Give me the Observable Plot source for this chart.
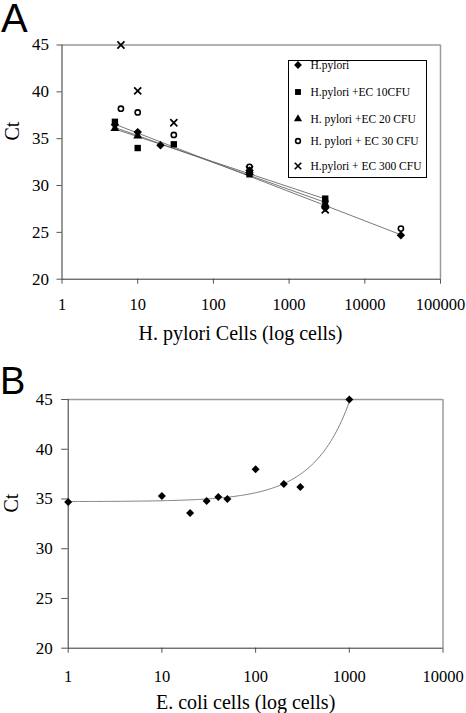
<!DOCTYPE html>
<html><head><meta charset="utf-8">
<script src="https://cdn.jsdelivr.net/npm/d3@7"></script>
<script src="https://cdn.jsdelivr.net/npm/@observablehq/plot@0.6"></script>
<style>
html,body{margin:0;padding:0;background:#fff;}
#root{position:relative;width:466px;height:713px;overflow:hidden;font-family:"Liberation Serif","Times New Roman",serif;background:#fff;}
.panel{position:absolute;left:0;}
.panel text{font-family:"Liberation Serif","Times New Roman",serif;}
.letter{position:absolute;font-family:"Liberation Sans",Arial,sans-serif;color:#000;line-height:0.8;white-space:nowrap;}
#legend{position:absolute;left:288px;top:60px;width:139px;height:118px;border:1.5px solid #000;background:#fff;box-sizing:border-box;}
.lrow{position:absolute;left:0;height:14px;font-size:11.5px;line-height:14px;white-space:nowrap;color:#000;}
.lrow svg{position:absolute;left:1.5px;top:0;}
.lrow span{position:absolute;left:21.5px;top:0;}
</style></head><body><div id="root"></div>
<script>
// ---------- data ----------
const seriesNames = ["H.pylori","H.pylori +EC 10CFU","H. pylori +EC 20 CFU","H. pylori + EC 30 CFU","H.pylori + EC 300 CFU"];
const hpX   = [5, 10, 20, 300, 3000, 30000];
const hpY   = [36.5, 35.7, 34.3, 31.6, 27.6, 24.7];
const ec10X = [5, 10, 30, 300, 3000];
const ec10Y = [36.8, 34.0, 34.4, 31.2, 28.6];
const ec20X = [5, 10, 300, 3000];
const ec20Y = [36.1, 35.3, 31.4, 28.0];
const ec30X = [6, 10, 30, 300, 3000, 30000];
const ec30Y = [38.2, 37.8, 35.4, 32.0, 28.3, 25.4];
const ec300X = [6, 10, 30, 300, 3000];
const ec300Y = [45.0, 40.1, 36.7, 31.7, 27.4];
const xTicksA = [1, 10, 100, 1000, 10000, 100000];
const yTicks = [20, 25, 30, 35, 40, 45];

const ecoliX = [1, 10, 20, 30, 40, 50, 100, 200, 300, 1000];
const ecoliY = [34.7, 35.3, 33.6, 34.8, 35.2, 35.0, 38.0, 36.5, 36.2, 45.0];
const xTicksB = [1, 10, 100, 1000, 10000];

const labelsA = {y: "Ct", x: "H. pylori Cells (log cells)"};
const labelsB = {y: "Ct", x: "E. coli cells (log cells)"};

// ---------- helpers ----------
const SERIF = "Liberation Serif";
const rows = (xs, ys) => xs.map((x, i) => ({x, y: ys[i]}));
function fitLog(xs, ys) {
  const lx = xs.map(Math.log10);
  const mx = d3.mean(lx), my = d3.mean(ys);
  const b = d3.sum(lx, (v, i) => (v - mx) * (ys[i] - my)) / d3.sum(lx, v => (v - mx) ** 2);
  const a = my - b * mx;
  const [x0, x1] = d3.extent(xs);
  return [{x: x0, y: a + b * Math.log10(x0)}, {x: x1, y: a + b * Math.log10(x1)}];
}
function fitExp(xs, ys) {
  const ly = ys.map(Math.log);
  const mx = d3.mean(xs), my = d3.mean(ly);
  const b = d3.sum(xs, (v, i) => (v - mx) * (ly[i] - my)) / d3.sum(xs, v => (v - mx) ** 2);
  const a = Math.exp(my - b * mx);
  const [x0, x1] = d3.extent(xs);
  return d3.range(Math.log10(x0), Math.log10(x1) + 1e-9, 0.02).map(e => {
    const x = 10 ** e; return {x, y: a * Math.exp(b * x)};
  });
}

const seriesA = [
  {name: seriesNames[0], xs: hpX, ys: hpY, symbol: "diamond2", r: 3.8, fill: "#000", stroke: "none", sw: 0, trend: true},
  {name: seriesNames[1], xs: ec10X, ys: ec10Y, symbol: "square", r: 3.6, fill: "#000", stroke: "none", sw: 0, trend: true},
  {name: seriesNames[2], xs: ec20X, ys: ec20Y, symbol: "triangle", r: 3.3, fill: "#000", stroke: "none", sw: 0, trend: true},
  {name: seriesNames[3], xs: ec30X, ys: ec30Y, symbol: "circle", r: 2.6, fill: "none", stroke: "#000", sw: 1.6, trend: false},
  {name: seriesNames[4], xs: ec300X, ys: ec300Y, symbol: "times", r: 3.3, fill: "none", stroke: "#000", sw: 1.7, trend: false}
];

const baseStyle = {fontFamily: "'Liberation Serif','Times New Roman',serif", fontSize: "16px", background: "white", overflow: "visible", color: "#000"};

// ---------- panel A ----------
const HA = 350;
const plotA = Plot.plot({
  width: 466, height: HA,
  marginTop: 44.5, marginLeft: 61.5, marginRight: 26, marginBottom: HA - 278.7,
  x: {type: "log", domain: [1, 100000]},
  y: {domain: [20, 45]},
  style: baseStyle,
  marks: [
    Plot.ruleY([45], {stroke: "#9a9a9a", strokeWidth: 1.5}),
    Plot.ruleX([100000], {stroke: "#9a9a9a", strokeWidth: 1.5}),
    ...seriesA.filter(s => s.trend).map(s => Plot.line(fitLog(s.xs, s.ys), {x: "x", y: "y", stroke: "#6a6a6a", strokeWidth: 0.9})),
    Plot.axisY({ticks: yTicks, tickSize: 5, tickPadding: 8, fontSize: 17, fontFamily: SERIF, stroke: "#555", label: null}),
    Plot.axisX({ticks: xTicksA, tickSize: 5, tickPadding: 14, fontSize: 16.5, fontFamily: SERIF, stroke: "#555", tickFormat: d3.format("d"), label: null}),
    Plot.ruleX([1], {stroke: "#333"}),
    Plot.ruleY([20], {stroke: "#333"}),
    Plot.text([labelsA.y], {frameAnchor: "left", dx: -49.5, dy: -21.6, rotate: -90, fontSize: 20, fontFamily: SERIF, lineAnchor: "middle"}),
    Plot.text([labelsA.x], {frameAnchor: "bottom", dx: -10.75, dy: 54.3, fontSize: 20, fontFamily: SERIF, lineAnchor: "middle"}),
    ...seriesA.map(s => Plot.dot(rows(s.xs, s.ys), {x: "x", y: "y", symbol: s.symbol, r: s.r, fill: s.fill, stroke: s.stroke, strokeWidth: s.sw}))
  ]
});

// ---------- panel B ----------
const HB = 363;
const plotB = Plot.plot({
  width: 466, height: HB,
  marginTop: 49, marginLeft: 67.7, marginRight: 23.5, marginBottom: HB - 297.7,
  x: {type: "log", domain: [1, 10000]},
  y: {domain: [20, 45]},
  style: baseStyle,
  marks: [
    Plot.ruleY([45], {stroke: "#9a9a9a", strokeWidth: 1.5}),
    Plot.ruleX([10000], {stroke: "#9a9a9a", strokeWidth: 1.5}),
    Plot.line(fitExp(ecoliX, ecoliY), {x: "x", y: "y", stroke: "#808080", strokeWidth: 1}),
    Plot.axisY({ticks: yTicks, tickSize: 6.5, tickPadding: 9, fontSize: 17, fontFamily: SERIF, stroke: "#555", label: null}),
    Plot.axisX({ticks: xTicksB, tickSize: 5, tickPadding: 17, fontSize: 16.5, fontFamily: SERIF, stroke: "#555", tickFormat: d3.format("d"), label: null}),
    Plot.ruleX([1], {stroke: "#333"}),
    Plot.ruleY([20], {stroke: "#333"}),
    Plot.text([labelsB.y], {frameAnchor: "left", dx: -57, dy: -11.3, rotate: -90, fontSize: 20, fontFamily: SERIF, lineAnchor: "middle"}),
    Plot.text([labelsB.x], {frameAnchor: "bottom", dx: -10, dy: 54, fontSize: 20, fontFamily: SERIF, lineAnchor: "middle"}),
    Plot.dot(rows(ecoliX, ecoliY), {x: "x", y: "y", symbol: "diamond2", r: 3.6, fill: "#000"})
  ]
});

// ---------- assemble ----------
const root = document.getElementById("root");
plotA.classList.add("panel"); plotA.style.top = "0px";
plotB.classList.add("panel"); plotB.style.top = "350px";
root.appendChild(plotA);
root.appendChild(plotB);

const letterA = document.createElement("div");
letterA.className = "letter"; letterA.textContent = "A";
letterA.style.fontSize = "40px"; letterA.style.left = "1px"; letterA.style.top = "1.5px";
root.appendChild(letterA);
const letterB = document.createElement("div");
letterB.className = "letter"; letterB.textContent = "B";
letterB.style.fontSize = "38px"; letterB.style.left = "0px"; letterB.style.top = "366px";
root.appendChild(letterB);

// legend (panel A)
const legend = document.createElement("div");
legend.id = "legend";
root.appendChild(legend);
const rowCenters = [3.5, 30.5, 57.5, 79.5, 104.5];
const symMap = {diamond2: d3.symbolDiamond2, square: d3.symbolSquare, triangle: d3.symbolTriangle, circle: d3.symbolCircle, times: d3.symbolTimes};
seriesA.forEach((s, i) => {
  const row = document.createElement("div");
  row.className = "lrow";
  row.style.top = (rowCenters[i] - 7) + "px";
  const svg = d3.create("svg").attr("width", 14).attr("height", 14);
  svg.append("path")
    .attr("transform", "translate(7,7)")
    .attr("d", d3.symbol(symMap[s.symbol], Math.PI * s.r * s.r * 0.85)())
    .attr("fill", s.fill).attr("stroke", s.stroke).attr("stroke-width", s.sw);
  row.appendChild(svg.node());
  const span = document.createElement("span");
  span.textContent = s.name;
  row.appendChild(span);
  legend.appendChild(row);
});
</script></body></html>
